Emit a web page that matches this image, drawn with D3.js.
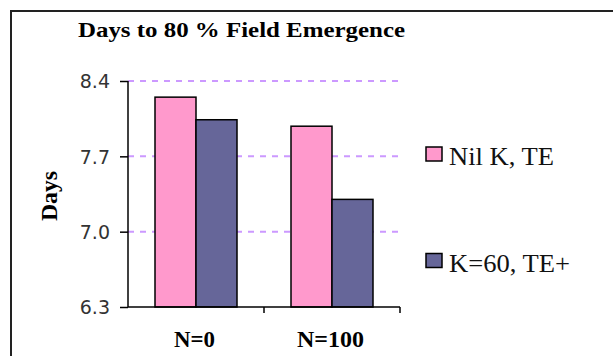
<!DOCTYPE html>
<html><head><meta charset="utf-8">
<script src="https://cdn.jsdelivr.net/npm/d3@7"></script>
<style>body{margin:0;background:#fff}svg{display:block}</style>
</head><body>
<svg id="c" width="613" height="356"></svg>
<script>
const categories = ["N=0", "N=100"];
const seriesNames = ["Nil K, TE", "K=60, TE+"];
const nilK = [8.25, 7.98];
const k60 = [8.04, 7.30];
const yTicks = [6.3, 7.0, 7.7, 8.4];
const colors = ["#ff99cc", "#666699"];

const svg = d3.select("#c");
// outer frame
svg.append("rect").attr("x", 11).attr("y", 11).attr("width", 640).attr("height", 400)
  .attr("fill", "none").attr("stroke", "#222").attr("stroke-width", 2);

const y = d3.scaleLinear().domain([6.3, 8.4]).range([307, 81]);
const x = d3.scaleBand().domain(categories).range([128, 400]).paddingInner(0).paddingOuter(0);
const bw = 41;

// gridlines
svg.append("g").selectAll("line").data(yTicks.filter(d => d > 6.3)).join("line")
  .attr("x1", 128).attr("x2", 400).attr("y1", d => y(d)).attr("y2", d => y(d))
  .attr("stroke", "#cc99ff").attr("stroke-width", 2).attr("stroke-dasharray", "6,6");

// bars
const series = [nilK, k60];
series.forEach((vals, si) => {
  svg.append("g").selectAll("rect").data(categories).join("rect")
    .attr("x", (c) => x(c) + x.bandwidth() / 2 - bw + si * bw)
    .attr("y", (c, i) => y(vals[i]))
    .attr("width", bw)
    .attr("height", (c, i) => y(6.3) - y(vals[i]))
    .attr("fill", colors[si]).attr("stroke", "#000").attr("stroke-width", 1.5);
});

// y axis
const ya = svg.append("g").attr("transform", "translate(128,0)")
  .call(d3.axisLeft(y).tickValues(yTicks).tickFormat(d3.format(".1f")).tickSize(8).tickPadding(10));
ya.select(".domain").attr("stroke", "#000").attr("stroke-width", 1.5).attr("d", "M0,81V307");
ya.selectAll(".tick line").attr("stroke", "#000").attr("stroke-width", 1.5);
ya.selectAll(".tick text").attr("font-family", "DejaVu Sans").attr("font-size", 19).attr("fill", "#333").attr("dy", "0.36em");

// x axis
const xa = svg.append("g").attr("transform", "translate(0,307)")
  .call(d3.axisBottom(x).tickValues([]).tickSize(0));
xa.select(".domain").attr("stroke", "#000").attr("stroke-width", 1.5).attr("d", "M128,0H400");
svg.append("g").selectAll("line").data([x.range()[0] + x.step(), x.range()[1]]).join("line")
  .attr("x1", d => d).attr("x2", d => d).attr("y1", 307).attr("y2", 313)
  .attr("stroke", "#000").attr("stroke-width", 1.5);
svg.append("g").selectAll("text").data(categories).join("text")
  .attr("x", (d, i) => x(d) + x.bandwidth() / 2 - 1.5 - (i === 0 ? 20.5 : 33.5)).attr("y", 347)
  .attr("font-family", "Liberation Serif").attr("font-weight", "bold")
  .attr("font-size", 24).attr("textLength", (d, i) => i === 0 ? 41 : 67).attr("lengthAdjust", "spacingAndGlyphs")
  .text(d => d);

// title
svg.append("text").attr("x", 78).attr("y", 37).attr("font-family", "Liberation Serif")
  .attr("font-weight", "bold").attr("font-size", 21).attr("textLength", 327).attr("lengthAdjust", "spacingAndGlyphs")
  .text("Days to 80 % Field Emergence");

// y title
svg.append("text").attr("transform", "translate(57,196) rotate(-90)").attr("text-anchor", "middle")
  .attr("font-family", "Liberation Serif").attr("font-weight", "bold").attr("font-size", 23)
  .attr("textLength", 50).attr("lengthAdjust", "spacingAndGlyphs").text("Days");

// legend
const lg = svg.append("g").selectAll("g").data(seriesNames).join("g")
  .attr("transform", (d, i) => `translate(426,${147 + i * 106.5})`);
lg.append("rect").attr("width", 16).attr("height", 14).attr("fill", (d, i) => colors[i])
  .attr("stroke", "#000").attr("stroke-width", 1.5);
lg.append("text").attr("x", 23).attr("y", 18).attr("font-family", "Liberation Serif")
  .attr("font-size", 25).attr("fill", "#111")
  .attr("textLength", (d, i) => i === 0 ? 105 : 121).attr("lengthAdjust", "spacingAndGlyphs")
  .text(d => d);
</script>
</body></html>
